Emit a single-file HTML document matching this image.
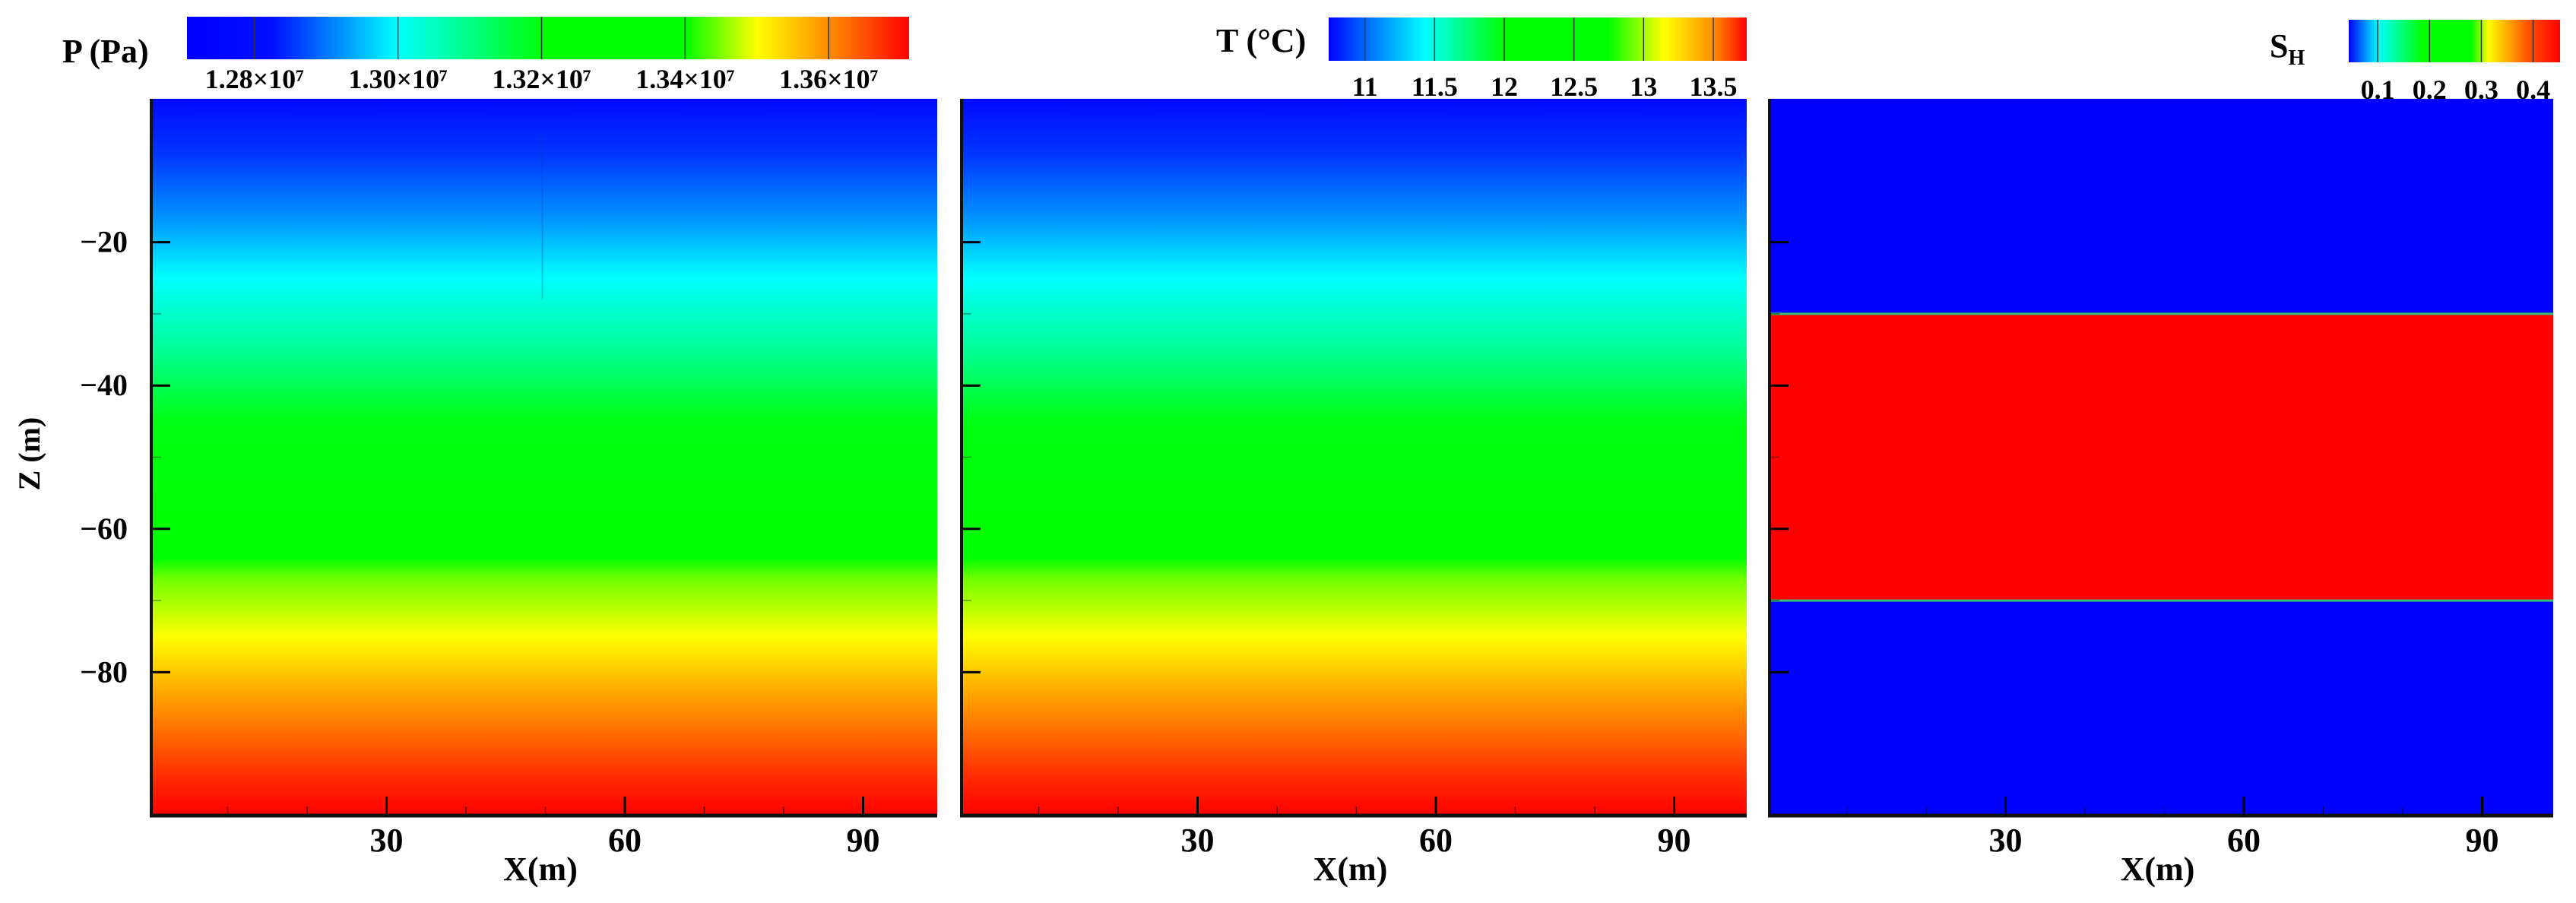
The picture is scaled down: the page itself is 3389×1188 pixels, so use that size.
<!DOCTYPE html>
<html><head><meta charset="utf-8"><style>
html,body{margin:0;padding:0;background:#fff;}
svg{display:block;font-family:"Liberation Serif",serif;font-weight:bold;}
</style></head><body>
<svg id="fig" width="3389" height="1188" viewBox="0 0 3389 1188" xmlns="http://www.w3.org/2000/svg">
<defs id="defs"></defs>
<g id="root"></g>
</svg>
<script>
// ---- data ----
const xTicks = [30, 60, 90];
const xMinor = [10, 20, 40, 50, 70, 80];
const zTicks = [-20, -40, -60, -80];
const zMinor = [-30, -50, -70];
const fieldDepths = [0, -8, -17, -25, -35, -45, -64, -67, -75, -85, -95, -100];
const fieldColors = ["#0008ff", "#0038ff", "#0098ff", "#00ffff", "#00ff95", "#00ff10", "#00ff00", "#70ff00", "#ffff00", "#ff9000", "#ff2800", "#ff0000"];
const shLayerTop = -30;
const shLayerBottom = -70;
const pTicks = ["1.28×10⁷", "1.30×10⁷", "1.32×10⁷", "1.34×10⁷", "1.36×10⁷"];
const pTickVals = [1.28, 1.30, 1.32, 1.34, 1.36];
const tTicks = ["11", "11.5", "12", "12.5", "13", "13.5"];
const tTickVals = [11, 11.5, 12, 12.5, 13, 13.5];
const shTicks = ["0.1", "0.2", "0.3", "0.4"];
const shTickVals = [0.1, 0.2, 0.3, 0.4];

const NS = "http://www.w3.org/2000/svg";
const root = document.getElementById('root');
const defs = document.getElementById('defs');
function mk(tag, attrs, parent) {
  const e = document.createElementNS(NS, tag);
  for (const k in attrs) e.setAttribute(k, attrs[k]);
  (parent || root).appendChild(e);
  return e;
}
const TOP = 130, BOT = 1073;
function yScale(z) { return TOP + (0 - z) / 100 * (BOT - TOP); }

const panels = [
  {name: 'pressure', left: 199, right: 1233, x0: 195, kind: 'field', labels: true},
  {name: 'temperature', left: 1265, right: 2298, x0: 1262, kind: 'field', labels: false},
  {name: 'hydrate-saturation', left: 2328, right: 3359, x0: 2325, kind: 'sh', labels: false}
];
const PXM = 10.45;

const fg = mk('linearGradient', {id: 'fieldGrad', x1: 0, y1: TOP, x2: 0, y2: BOT, gradientUnits: 'userSpaceOnUse'}, defs);
fieldDepths.forEach((d, i) => {
  mk('stop', {offset: ((yScale(d) - TOP) / (BOT - TOP)).toFixed(4), 'stop-color': fieldColors[i]}, fg);
});

panels.forEach(p => {
  const g = mk('g', {});
  
  
  const xs = v => p.x0 + v * PXM;
  if (p.kind === 'field') {
    const r = mk('rect', {x: p.left, y: TOP, width: p.right - p.left, height: BOT - TOP, fill: 'url(#fieldGrad)'}, g);
    
    
  } else {
    const r0 = mk('rect', {x: p.left, y: TOP, width: p.right - p.left, height: BOT - TOP, fill: '#0000ff'}, g);
    
    
    const y1 = yScale(shLayerTop), y2 = yScale(shLayerBottom);
    const r1 = mk('rect', {x: p.left, y: y1, width: p.right - p.left, height: y2 - y1, fill: '#ff0000'}, g);
    
    
    mk('line', {x1: p.left, x2: p.right, y1: y1, y2: y1, stroke: '#30c070', 'stroke-width': 3}, g);
    mk('line', {x1: p.left, x2: p.right, y1: y2, y2: y2, stroke: '#30c070', 'stroke-width': 3}, g);
  }
  if (p.name === 'pressure') {
    mk('line', {x1: xs(50) - 4, x2: xs(50) - 4, y1: yScale(-5), y2: yScale(-28), stroke: '#1030a0', 'stroke-width': 2, opacity: 0.25}, g);
  }
  const ax = mk('line', {x1: p.left, x2: p.left, y1: TOP, y2: BOT + 2, stroke: '#111', 'stroke-width': 4}, g);
  
  
  const bx = mk('line', {x1: p.left - 2, x2: p.right, y1: BOT, y2: BOT, stroke: '#111', 'stroke-width': 5}, g);
  
  
  xTicks.forEach(v => {
    mk('line', {x1: xs(v), x2: xs(v), y1: BOT, y2: BOT - 25, stroke: '#000', 'stroke-width': 3}, g);
    const t = mk('text', {x: xs(v), y: 1120, 'font-size': 44, 'text-anchor': 'middle'}, g);
    t.textContent = v;
    
    
  });
  xMinor.forEach(v => {
    mk('line', {x1: xs(v), x2: xs(v), y1: BOT, y2: BOT - 12, stroke: '#000', 'stroke-width': 1.5, opacity: 0.6}, g);
  });
  zTicks.forEach(v => {
    mk('line', {x1: p.left, x2: p.left + 25, y1: yScale(v), y2: yScale(v), stroke: '#000', 'stroke-width': 3}, g);
    if (p.labels) {
      const t = mk('text', {x: 168, y: yScale(v) + 13, 'font-size': 40, 'text-anchor': 'end'}, g);
      t.textContent = '\u2212' + Math.abs(v);
      
      
    }
  });
  zMinor.forEach(v => {
    mk('line', {x1: p.left, x2: p.left + 13, y1: yScale(v), y2: yScale(v), stroke: '#000', 'stroke-width': 1.5, opacity: 0.4}, g);
  });
  const xl = mk('text', {x: (p.left + p.right) / 2 - 5, y: 1158, 'font-size': 44, 'text-anchor': 'middle'}, g);
  xl.textContent = 'X(m)';
  
  
});

const zl = mk('text', {x: 0, y: 0, 'font-size': 40, 'text-anchor': 'middle', transform: 'translate(52,597) rotate(-90)'});
zl.textContent = 'Z (m)';



function colorbar(id, name, x1, x2, y1, y2, stops, vals, labels, vMin, vMax, labelY, fs) {
  const gr = mk('linearGradient', {id: id, x1: 0, y1: 0, x2: 1, y2: 0}, defs);
  stops.forEach(s => mk('stop', {offset: s[0], 'stop-color': s[1]}, gr));
  const g = mk('g', {});
  
  
  mk('rect', {x: x1, y: y1, width: x2 - x1, height: y2 - y1, fill: 'url(#' + id + ')'}, g);
  const sc = v => x1 + (v - vMin) / (vMax - vMin) * (x2 - x1);
  vals.forEach((v, i) => {
    mk('line', {x1: sc(v), x2: sc(v), y1: y1, y2: y2, stroke: '#333', 'stroke-width': 1.5}, g);
    const t = mk('text', {x: sc(v), y: labelY, 'font-size': fs, 'text-anchor': 'middle'}, g);
    t.textContent = labels[i];
    
    
  });
}
colorbar('pGrad', 'pressure-colorbar', 246, 1196, 22, 78,
  [[0, '#0000ff'], [0.12, '#0010ff'], [0.29, '#00ffff'], [0.5, '#00ff00'], [0.69, '#00ff00'], [0.79, '#ffff00'], [0.9, '#ff8000'], [1, '#ff0000']],
  pTickVals, pTicks, 1.2706, 1.3712, 116, 36);
colorbar('tGrad', 'temperature-colorbar', 1748, 2298, 23, 80,
  [[0, '#0000ff'], [0.08, '#0060ff'], [0.23, '#00ffff'], [0.42, '#00ff00'], [0.67, '#00ff00'], [0.8, '#ffff00'], [0.92, '#ff9000'], [1, '#ff0000']],
  tTickVals, tTicks, 10.74, 13.74, 126, 36);
colorbar('sGrad', 'saturation-colorbar', 3090, 3368, 26, 82,
  [[0, '#0000ff'], [0.14, '#00ffff'], [0.35, '#00ff00'], [0.58, '#00ff00'], [0.66, '#ffff00'], [0.85, '#ff5000'], [1, '#ff0000']],
  shTickVals, shTicks, 0.044, 0.452, 130, 36);

const pt = mk('text', {x: 82, y: 82, 'font-size': 44});
pt.textContent = 'P  (Pa)';


const tt = mk('text', {x: 1600, y: 68, 'font-size': 44});
tt.textContent = 'T  (°C)';


const st = mk('text', {x: 2986, y: 75, 'font-size': 44});
st.textContent = 'S';


const sub = mk('tspan', {dy: 10, 'font-size': 28}, st);
sub.textContent = 'H';
</script>
</body></html>
